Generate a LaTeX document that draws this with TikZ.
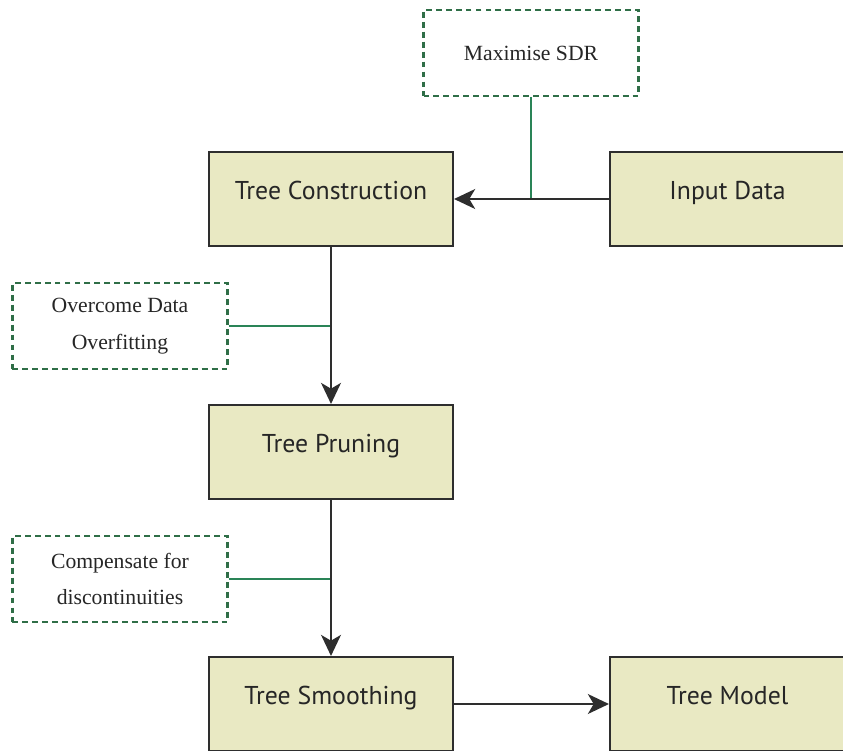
\documentclass[tikz,border=0pt]{standalone}
\usepackage{fontspec}
\newfontfamily\boxfont{PT Sans}
\setmainfont{Liberation Serif}
\usetikzlibrary{arrows.meta}
\definecolor{boxfill}{HTML}{E9E9C3}
\definecolor{boxline}{HTML}{2E2E2E}
\definecolor{notegreen}{HTML}{2F6E47}
\definecolor{linkgreen}{HTML}{2A8457}
\tikzset{
  stagebox/.style={draw=boxline, line width=1.8pt, fill=boxfill,
    minimum width=7.32cm, minimum height=2.82cm, inner sep=0pt},
  stagetext/.style={anchor=base, yshift=-1.45cm, inner sep=0pt,
    font=\boxfont\fontsize{22}{26}\selectfont, text=black!85},
  notebox/.style={draw=notegreen, line width=1.9pt, dash pattern=on 5pt off 3.5pt,
    minimum width=6.45cm, minimum height=2.58cm, inner sep=0pt, align=center,
    font=\fontsize{18.5}{31}\selectfont, text=black!85},
  flow/.style={draw=boxline, line width=1.7pt, -{Stealth[length=18pt,width=17pt,inset=5pt]}},
  link/.style={draw=linkgreen, line width=1.5pt}
}
\begin{document}
\begin{tikzpicture}[x=0.03cm,y=-0.03cm]
  \useasboundingbox (0,0) rectangle (843,750);
  \clip (0,0) rectangle (843,750);
  \fill[white] (0,0) rectangle (843,750);

  % main stages
  \node[stagebox, label={[stagetext]north:Tree Construction}] (construct) at (331,199) {};
  \node[stagebox, minimum width=7.05cm, label={[stagetext]north:Input Data}] (input) at (727.5,199) {};
  \node[stagebox, label={[stagetext]north:Tree Pruning}] (prune) at (331,452) {};
  \node[stagebox, label={[stagetext]north:Tree Smoothing}] (smooth) at (331,704) {};
  \node[stagebox, minimum width=7.05cm, label={[stagetext]north:Tree Model}] (model) at (727.5,704) {};

  % annotations
  \node[notebox] (sdr) at (531,53) {Maximise SDR};
  \node[notebox] (overfit) at (120,326) {Overcome Data\\Overfitting};
  \node[notebox] (discont) at (120,579) {Compensate for\\discontinuities};

  % annotation links
  \coordinate (sdrjoin) at (sdr.south |- input.west);
  \coordinate (overjoin) at (construct.south |- overfit.east);
  \coordinate (discjoin) at (prune.south |- discont.east);
  \draw[link] (sdr.south) -- (sdrjoin);
  \draw[link] (overfit.east) -- (overjoin);
  \draw[link] (discont.east) -- (discjoin);

  % flow arrows
  \draw[flow] (input.west) -- (construct.east);
  \draw[flow] (construct.south) -- (prune.north);
  \draw[flow] (prune.south) -- (smooth.north);
  \draw[flow] (smooth.east) -- (model.west);
\end{tikzpicture}
\end{document}
